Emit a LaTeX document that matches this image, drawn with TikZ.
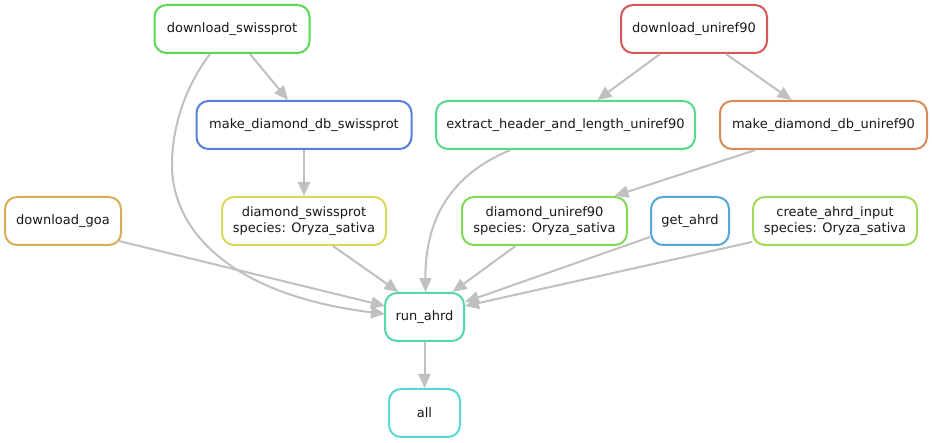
\documentclass[tikz,border=0pt]{standalone}
\usepackage{fontspec}
\setmainfont{DejaVu Sans}
\usetikzlibrary{arrows.meta,calc}
\definecolor{cds}{HTML}{57D957}
\definecolor{cmdbs}{HTML}{5780D9}
\definecolor{cdu}{HTML}{D95757}
\definecolor{cext}{HTML}{57D98A}
\definecolor{cmdbu}{HTML}{D98A57}
\definecolor{cgoa}{HTML}{D9AD57}
\definecolor{cdsw}{HTML}{D9D957}
\definecolor{cdur}{HTML}{80D957}
\definecolor{cget}{HTML}{57A6D9}
\definecolor{ccre}{HTML}{A6D957}
\definecolor{crun}{HTML}{57D9A6}
\definecolor{call}{HTML}{57D9D9}
\definecolor{edgegray}{HTML}{C0C0C0}
\begin{document}
\begin{tikzpicture}[x=1pt,y=-1pt,
  box/.style={draw, rounded corners=12pt, line width=2pt, minimum height=48pt,
    align=center, inner sep=0pt, font=\fontsize{13}{16}\selectfont, text=black!90},
  conn/.style={draw=edgegray, line width=2pt, -{Triangle[length=14pt,width=12pt]}}]
\useasboundingbox[fill=white] (0,0) rectangle (932,443);
\node[box, draw=cds, minimum width=155pt] (ds) at (232,29) {download\_swissprot};
\node[box, draw=cdu, minimum width=146pt] (du) at (694,29) {download\_uniref90};
\node[box, draw=cmdbs, minimum width=215pt] (mdbs) at (304,125) {make\_diamond\_db\_swissprot};
\node[box, draw=cext, minimum width=259pt] (ext) at (565.5,125) {extract\_header\_and\_length\_uniref90};
\node[box, draw=cmdbu, minimum width=207pt] (mdbu) at (823.5,125) {make\_diamond\_db\_uniref90};
\node[box, draw=cgoa, minimum width=116pt] (goa) at (63,221) {download\_goa};
\node[box, draw=cdsw, minimum width=164pt] (dsw) at (304,221) {diamond\_swissprot\\species: Oryza\_sativa};
\node[box, draw=cdur, minimum width=165pt] (dur) at (544.5,221) {diamond\_uniref90\\species: Oryza\_sativa};
\node[box, draw=cget, minimum width=78pt] (get) at (690,221) {get\_ahrd};
\node[box, draw=ccre, minimum width=164pt] (cre) at (835,221) {create\_ahrd\_input\\species: Oryza\_sativa};
\node[box, draw=crun, minimum width=79pt] (run) at (424.5,317) {run\_ahrd};
\node[box, draw=call, minimum width=71pt] (all) at (424.5,413) {all};
% edges
\draw[conn] ($(ds.south)+(18,0)$) -- ($(mdbs.north)+(-16,0)$);
\draw[conn] ($(du.south)+(-34,0)$) -- ($(ext.north)+(32,0)$);
\draw[conn] ($(du.south)+(32,0)$) -- ($(mdbu.north)+(-32,0)$);
\draw[conn] (mdbs.south) -- (dsw.north);
\draw[conn] ($(mdbu.south)+(-68,0)$) -- ($(dur.north)+(70,0)$);
\draw[conn] ($(ds.south)+(-22,0)$) .. controls (190,80) and (172,120) .. (172,165)
  .. controls (172,230) and (230,295) .. ($(run.west)+(1,-3)$);
\draw[conn] ($(goa.east)+(-3,20)$) -- ($(run.west)+(1,-11)$);
\draw[conn] ($(dsw.south)+(29,0)$) -- ($(run.north)+(-26,0)$);
\draw[conn] ($(ext.south)+(-55,0)$) .. controls (450,175) and (425,220) .. ($(run.north)+(1,0)$);
\draw[conn] ($(dur.south)+(-29,0)$) -- ($(run.north)+(28,0)$);
\draw[conn] ($(get.west)+(0,16)$) -- ($(run.east)+(0,-15)$);
\draw[conn] ($(cre.west)+(0,21)$) -- ($(run.east)+(0,-11)$);
\draw[conn] (run.south) -- (all.north);
\end{tikzpicture}
\end{document}
